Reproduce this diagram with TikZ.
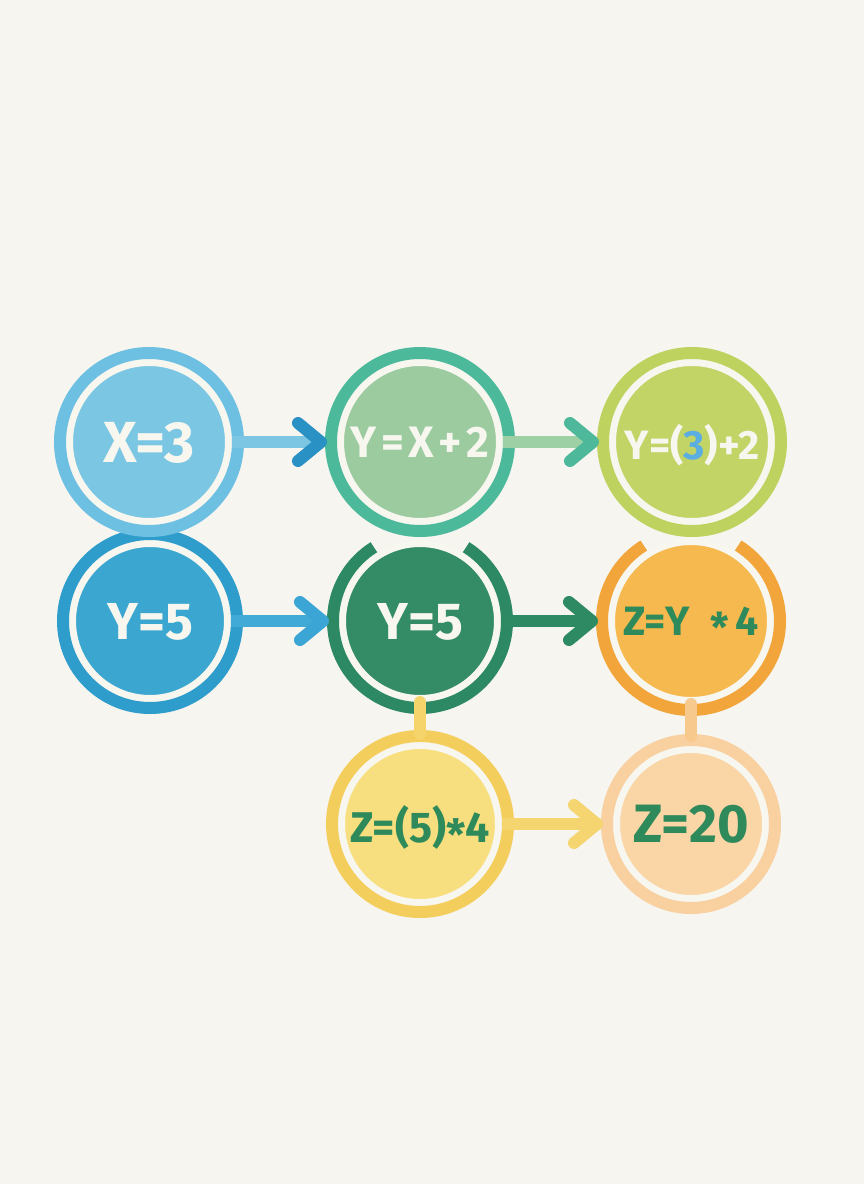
\documentclass[tikz,border=0pt]{standalone}
\usepackage{fontspec}
\setmainfont{Fira Sans}
\usetikzlibrary{calc}
\definecolor{bg}{HTML}{F6F5F0}
\definecolor{cream}{HTML}{F7F6EF}
\definecolor{ringA}{HTML}{6DC0E2}\definecolor{fillA}{HTML}{7BC7E3}
\definecolor{ringB}{HTML}{2F9DCC}\definecolor{fillB}{HTML}{3BA7D0}
\definecolor{ringC}{HTML}{4DB99B}\definecolor{fillC}{HTML}{9BCB9F}
\definecolor{ringD}{HTML}{2D8963}\definecolor{fillD}{HTML}{338C65}
\definecolor{ringE}{HTML}{BED35F}\definecolor{fillE}{HTML}{C3D467}
\definecolor{ringF}{HTML}{F2A53A}\definecolor{fillF}{HTML}{F6B94F}
\definecolor{ringG}{HTML}{F4CE5C}\definecolor{fillG}{HTML}{F7DE7E}
\definecolor{ringH}{HTML}{F9D0A0}\definecolor{fillH}{HTML}{FAD5A6}
\definecolor{txtgreen}{HTML}{2E8A5A}
\definecolor{num}{HTML}{5AAEE2}
\definecolor{lineA}{HTML}{7CC6E4}\definecolor{headA}{HTML}{2A91C5}
\definecolor{lineB}{HTML}{9DD0A4}\definecolor{headB}{HTML}{4DB89A}
\definecolor{lineC}{HTML}{42AAD7}\definecolor{headC}{HTML}{3BA6D5}
\definecolor{lineD}{HTML}{2E8A62}
\definecolor{lineE}{HTML}{F5D56F}
\definecolor{connY}{HTML}{F4D46B}
\definecolor{connP}{HTML}{F8C98C}
\newcommand\flowarrow[4]{%
  \draw[line width=12pt, #3] (#1.east) -- ($(#2.west)+(-24,0)$);
  \draw[line width=12pt, line cap=round, line join=round, #4]
    ($(#2.west)+(-39,-19)$) -- ($(#2.west)+(-16,0)$) -- ($(#2.west)+(-39,19)$);
}
\newcommand\fs[1]{\bfseries\fontsize{#1}{#1}\selectfont}
\newcommand\gapk{\kern0.1em}
\tikzset{
  bubble/.style={circle, inner sep=-60pt, draw=cream, line width=7pt, text depth=0pt},
  ringline/.style={line width=12pt},
  conn/.style={line width=12pt, line cap=round},
}
\begin{document}
\begin{tikzpicture}[x=1pt,y=-1pt]
\fill[bg] (0,0) rectangle (864,1184);
\useasboundingbox (0,0) rectangle (864,1184);
% column 1
\node[bubble, fill=fillB, minimum size=155pt, text=cream, font=\fs{52}] (c2) at (150,621) {Y=5};
\draw[ringline, ringB] (c2.center) circle (87);
\node[bubble, fill=fillA, minimum size=159pt, text=cream, font=\fs{58}] (c1) at (149,442) {X=3};
\draw[ringline, ringA] (c1.center) circle (89);
% column 2
\node[bubble, fill=fillD, minimum size=155pt, text=cream, font=\fs{52}] (c4) at (420,621) {Y=5};
\draw[ringline, ringD] ($(c4.center)+(302:87)$) arc (302:598:87);
\node[bubble, fill=fillC, minimum size=159pt, text=cream, font=\fs{44}] (c3) at (420,442) {Y\gapk=\gapk X\gapk+\gapk2};
\draw[ringline, ringC] (c3.center) circle (89);
% column 3
\node[bubble, fill=fillF, minimum size=159pt, text=txtgreen, font=\fs{41}] (c6) at (691,621) {Z=Y\enspace\raisebox{-0.18em}{*}\,4};
\draw[ringline, ringF] ($(c6.center)+(302:89)$) arc (302:598:89);
\node[bubble, fill=fillE, minimum size=159pt, text=cream, font=\fs{41}] (c5) at (692,442) {Y=(\textcolor{num}{3})+2};
\draw[ringline, ringE] (c5.center) circle (89);
% row 3
\node[bubble, fill=fillG, minimum size=157pt, text=txtgreen, font=\fs{43}] (c7) at (420,824) {Z=(5)\raisebox{-0.18em}{*}4};
\draw[ringline, ringG] (c7.center) circle (88);
\node[bubble, fill=fillH, minimum size=149pt, text=txtgreen, font=\fs{54}] (c8) at (691,824) {Z=20};
\draw[ringline, ringH] (c8.center) circle (84);
% vertical connectors
\draw[conn, connY, shorten >=8pt] (c4.south) -- (c7.north);
\draw[conn, connP, shorten >=10pt] (c6.south) -- (c8.north);
% arrows
\flowarrow{c1}{c3}{lineA}{headA}
\flowarrow{c3}{c5}{lineB}{headB}
\flowarrow{c2}{c4}{lineC}{headC}
\flowarrow{c4}{c6}{lineD}{lineD}
\flowarrow{c7}{c8}{lineE}{lineE}
\end{tikzpicture}
\end{document}
